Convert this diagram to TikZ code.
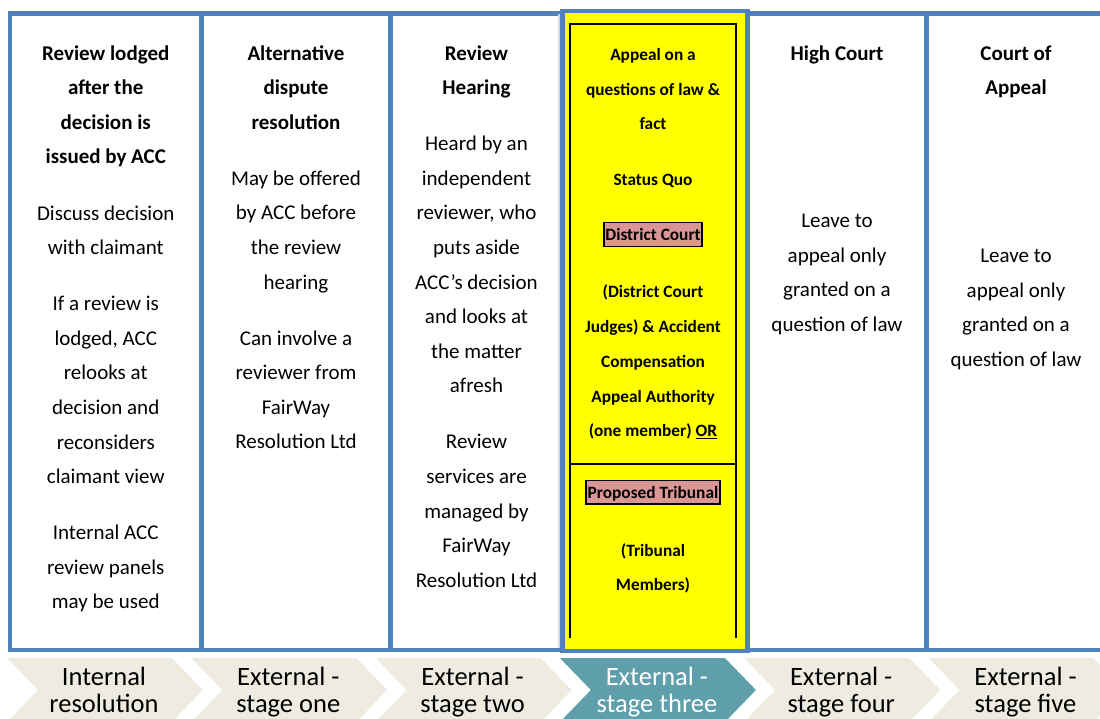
\documentclass[tikz,border=0pt]{standalone}
\usepackage{fontspec}
\setmainfont{Carlito}
\definecolor{accblue}{RGB}{79,129,189}
\definecolor{chevbeige}{RGB}{238,236,225}
\definecolor{chevteal}{RGB}{95,158,171}
\definecolor{pinkfill}{RGB}{217,150,148}
\definecolor{hiyellow}{RGB}{255,255,0}

\begin{document}
\begin{tikzpicture}[
        x=1pt, y=-1pt,
        % columnas de la tabla
        column/.style={draw=accblue, line width=4.5pt, fill=white},
        yellowcol/.style={draw=accblue, line width=4.5pt, fill=hiyellow},
        % base = linea base de la ultima linea del texto
        heading/.style={anchor=base, align=center, inner sep=0pt, font=\fontsize{21}{34.6}\selectfont\bfseries},
        body/.style={anchor=base, align=center, inner sep=0pt, font=\fontsize{21}{34.6}\selectfont},
        ytext/.style={anchor=base, align=center, inner sep=0pt, font=\fontsize{17.3}{34.8}\selectfont\bfseries},
        pinkbox/.style={anchor=base, draw=black, line width=1.5pt, fill=pinkfill, inner xsep=1.5pt, inner ysep=0pt, text height=18pt, text depth=5.7pt, font=\fontsize{17.3}{20}\selectfont\bfseries},
        stagetext/.style={anchor=base, align=center, inner sep=0pt, font=\fontsize{26.5}{27}\selectfont}
    ]
        \clip (0,0) rectangle (1100,718);

        % Columnas blancas
        \draw[column] (10,13.5) rectangle (201.5,650);
        \draw[column] (201.5,13.5) rectangle (390.5,650);
        \draw[column] (390.5,13.5) rectangle (562.5,650);
        \draw[column] (747.5,13.5) rectangle (926.5,650);
        \draw[column] (926.5,13.5) rectangle (1106,650);

        % Columna destacada (stage three)
        \fill[black!15] (557.5,14) rectangle (562,648);
        \draw[yellowcol] (562.5,11) rectangle (747.5,651);
        \draw[line width=1.5pt] (570,638) |- (736,24) -- (736,638);
        \draw[line width=1.5pt] (570,464) -- (736,464);

        % Textos de las columnas
        \node[heading] (head1) at (105.75,163.8) {Review lodged\\after the\\decision is\\issued by ACC};
        \node[body] (body1) at (105.75,608.8) {Discuss decision\\with claimant\\[21.4pt]If a review is\\lodged, ACC\\relooks at\\decision and\\reconsiders\\claimant view\\[21.4pt]Internal ACC\\review panels\\may be used};

        \node[heading] (head2) at (296,129.2) {Alternative\\dispute\\resolution};
        \node[body] (body2) at (296,448.8) {May be offered\\by ACC before\\the review\\hearing\\[21.4pt]Can involve a\\reviewer from\\FairWay\\Resolution Ltd};

        \node[heading] (head3) at (476.5,94.6) {Review\\Hearing};
        \node[body] (body3) at (476.5,587.2) {Heard by an\\independent\\reviewer, who\\puts aside\\ACC’s decision\\and looks at\\the matter\\afresh\\[21.4pt]Review\\services are\\managed by\\FairWay\\Resolution Ltd};

        \node[ytext] (ytop) at (653,185.6) {Appeal on a\\questions of law \&\\fact\\[21pt]Status Quo};
        \node[pinkbox] (dcourt) at (653,240.7) {District Court};
        \node[ytext] (ymid) at (653,436.9) {(District Court\\Judges) \& Accident\\Compensation\\Appeal Authority\\(one member) \underline{OR}};
        \node[pinkbox] (tribunal) at (653,498.3) {Proposed Tribunal};
        \node[ytext] (ybot) at (653,590.8) {(Tribunal\\Members)};

        \node[heading] (head5) at (837,60) {High Court};
        \node[body] (body5) at (837,331.3) {Leave to\\appeal only\\granted on a\\question of law};

        \node[heading] (head6) at (1016,94.6) {Court of\\Appeal};
        \node[body] (body6) at (1016,366.3) {Leave to\\appeal only\\granted on a\\question of law};

        % Flechas de etapas
        \foreach \i/\la/\lb/\fc/\tc in {0/Internal/resolution/chevbeige/black,
                1/External -/stage one/chevbeige/black,
                2/External -/stage two/chevbeige/black,
                3/External -/stage three/chevteal/white,
                4/External -/stage four/chevbeige/black,
                5/External -/stage five/chevbeige/black}{
            \pgfmathsetmacro{\xo}{7+184.3*\i}
            \fill[\fc] (\xo,658) -- ++(165,0) -- ++(31,32) -- ++(-31,32) -- ++(-165,0) -- ++(31,-32) -- cycle;
            \node[stagetext, text=\tc] (stage\i) at (\xo+97,712) {\la\\\lb};
        }
    \end{tikzpicture}
\end{document}
